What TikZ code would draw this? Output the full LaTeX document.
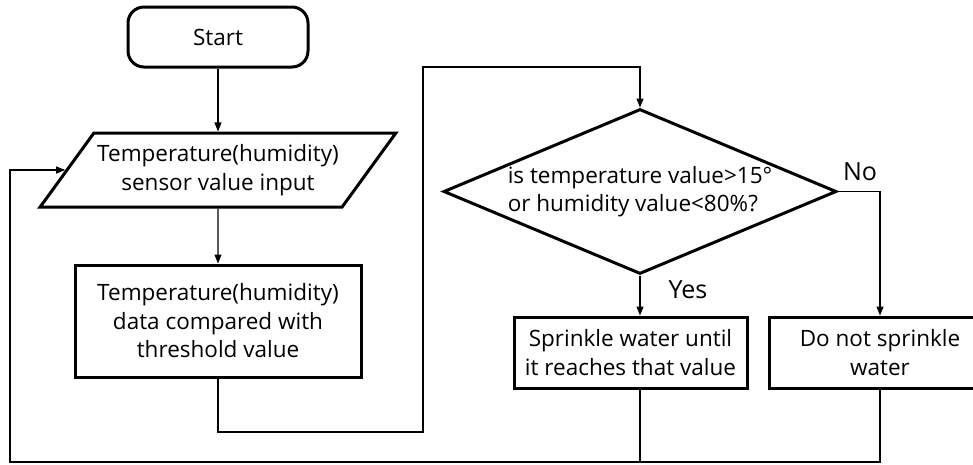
\documentclass[tikz,border=0pt]{standalone}
\usepackage{fontspec}
\setmainfont{Open Sans}
\usetikzlibrary{shapes.geometric,arrows.meta}
\newcommand{\chartfont}{\fontsize{22.5}{28.5}\selectfont}
\newcommand{\answerfont}{\fontsize{25}{30}\selectfont}

\begin{document}
\begin{tikzpicture}[x=1pt,y=-1pt,every node/.style={font=\chartfont}]
			\tikzstyle{terminal} = [draw, line width=3pt, rounded corners=16pt, minimum width=180pt, minimum height=60pt]
			\tikzstyle{io} = [draw, line width=3pt, trapezium, trapezium left angle=47, trapezium right angle=133, trapezium stretches body, minimum width=343pt, minimum height=74pt, align=center]
			\tikzstyle{process} = [draw, line width=3pt, minimum height=71pt, align=center]
			\tikzstyle{decision} = [draw, line width=3pt, diamond, aspect=2.38, inner sep=0pt, minimum width=393pt, minimum height=165pt, align=left]
			\tikzstyle{answer} = [font=\answerfont]
			\tikzset{edge/.style = {line width=1.1pt, -{Triangle[length=9pt,width=7pt]}}}
			\tikzset{wire/.style = {line width=1.1pt}}
			
			\useasboundingbox (0,0) rectangle (973,464);
			\clip (0,0) rectangle (973,464);
			
			\node[terminal](start) at (218,37) {Start};
			\node[io](input) at (218,170) {Temperature(humidity)\\sensor value input};
			\node[process, minimum width=286pt, minimum height=112pt](compare) at (218,321) {Temperature(humidity)\\data compared with\\threshold value};
			\draw[edge](start) to (input);
			\draw[edge](input) to (compare);
			
			\node[decision](check) at (640,191.5) {is temperature value>15°\\or humidity value<80\%?};
			\coordinate (loopdown) at (423,432);
			\coordinate (loopup) at (423,67);
			\draw[edge](compare.south) |- (loopdown) -- (loopup) -| (check.north);
			
			\node[process, minimum width=233pt](sprinkle) at (630.5,352.5) {Sprinkle water until\\it reaches that value};
			\node[process, minimum width=222pt](nosprinkle) at (880,352.5) {Do not sprinkle\\water};
			\draw[edge](check.south) to (check.south |- sprinkle.north);
			\draw[edge](check.east) -| (nosprinkle.north);
			
			\node[answer](yes) at (688,290) {Yes};
			\node[answer](no) at (860,172) {No};
			
			\coordinate (back) at (10,462);
			\draw[wire](check.south |- sprinkle.south) to (check.south |- back);
			\draw[edge](nosprinkle.south) |- (back) |- (input.west);
			
			\end{tikzpicture}
\end{document}
